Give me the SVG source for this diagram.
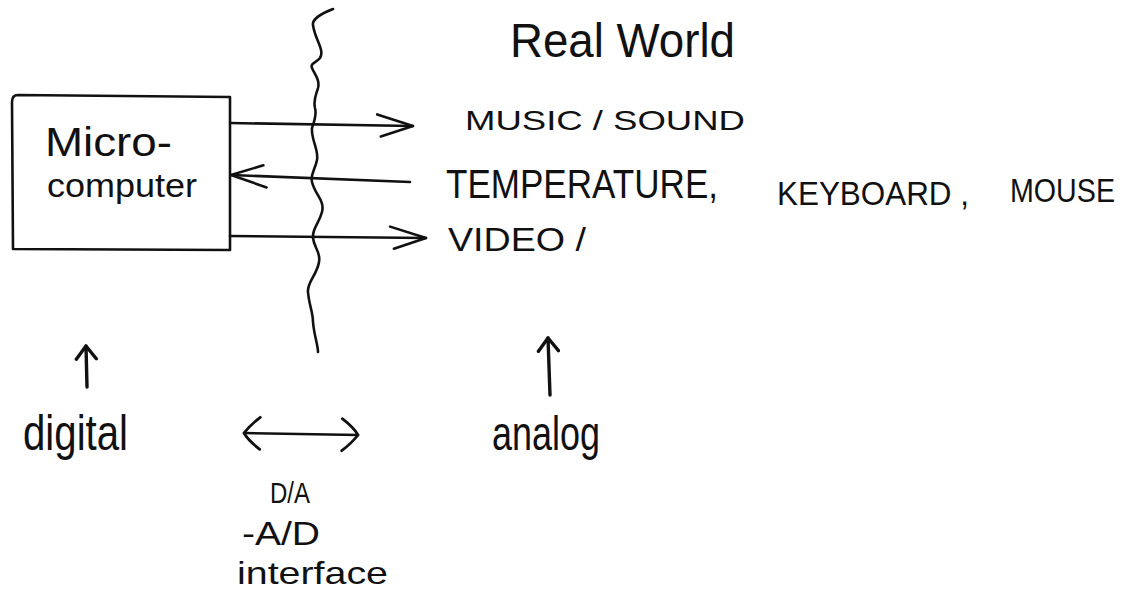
<svg xmlns="http://www.w3.org/2000/svg" width="1139" height="594" viewBox="0 0 1139 594">
  <style>
    .ink { fill: none; stroke: #111; stroke-width: 2.6; stroke-linecap: round; stroke-linejoin: round; }
    .bold { stroke-width: 3.4; }
    .txt { font-family: "Liberation Sans", Arial, sans-serif; fill: #111; }
  </style>
  <defs>
    <marker id="headLong" markerUnits="userSpaceOnUse" viewBox="-2 -2 40 26" markerWidth="40" markerHeight="26" refX="36" refY="11" orient="auto">
      <path d="M0,0 L36,11 L4,22" fill="none" stroke="#111" stroke-width="2.6" stroke-linecap="round" stroke-linejoin="round"/>
    </marker>
    <marker id="headShort" markerUnits="userSpaceOnUse" viewBox="-2 -2 18 24" markerWidth="18" markerHeight="24" refX="13" refY="10" orient="auto">
      <path d="M0,0 L13,10 L0,20" fill="none" stroke="#111" stroke-width="3.4" stroke-linecap="round" stroke-linejoin="round"/>
    </marker>
    <marker id="headDbl" markerUnits="userSpaceOnUse" viewBox="-2 -2 22 36" markerWidth="22" markerHeight="36" refX="18" refY="16" orient="auto-start-reverse">
      <path d="M2,0 Q14,9 18,16 Q12,24 2,32" fill="none" stroke="#111" stroke-width="2.8" stroke-linecap="round" stroke-linejoin="round"/>
    </marker>
  </defs>
  <rect width="1139" height="594" fill="#fff"/>

  <!-- interface boundary (wavy line) -->
  <g id="boundary">
    <path class="ink" d="M333,9 C320,14 312,20 313,25 C315,40 325,50 320,58 C316,63 310,63 312,68 C315,75 320,80 318,88 C316,95 313,100 315,108 C317,115 314,122 312,128 C311,140 319,150 317,160 C315,170 310,175 312,182 C315,195 325,200 322,212 C319,224 312,228 313,238 C314,248 321,252 319,262 C317,275 307,282 308,292 C309,305 313,312 313,322 C314,335 318,345 318,352"/>
  </g>

  <g id="microcomputer">
    <path class="ink" d="M18,95 L230,97 L230,250 L13,249 L12,102 Q12,95 18,95 Z"/>
    <text class="txt" x="45" y="156" font-size="41" textLength="127" lengthAdjust="spacingAndGlyphs">Micro-</text>
    <text class="txt" x="47" y="197" font-size="34" textLength="150" lengthAdjust="spacingAndGlyphs">computer</text>
  </g>

  <g id="real-world">
    <text class="txt" x="510" y="57" font-size="48" textLength="225" lengthAdjust="spacingAndGlyphs">Real World</text>
  </g>

  <g id="music-sound">
    <text class="txt" x="465" y="130" font-size="28" textLength="280" lengthAdjust="spacingAndGlyphs">MUSIC / SOUND</text>
  </g>

  <g id="inputs">
    <text class="txt" x="446" y="198" font-size="40" textLength="272" lengthAdjust="spacingAndGlyphs">TEMPERATURE,</text>
    <text class="txt" x="777" y="205" font-size="34" textLength="192" lengthAdjust="spacingAndGlyphs">KEYBOARD ,</text>
    <text class="txt" x="1010" y="202" font-size="34" textLength="105" lengthAdjust="spacingAndGlyphs">MOUSE</text>
  </g>

  <g id="video">
    <text class="txt" x="448" y="251" font-size="34" textLength="138" lengthAdjust="spacingAndGlyphs">VIDEO /</text>
  </g>

  <g id="digital">
    <text class="txt" x="23" y="450" font-size="50" textLength="105" lengthAdjust="spacingAndGlyphs">digital</text>
  </g>

  <g id="analog">
    <text class="txt" x="492" y="450" font-size="48" textLength="108" lengthAdjust="spacingAndGlyphs">analog</text>
  </g>

  <g id="interface">
    <text class="txt" x="270" y="503" font-size="30" textLength="40" lengthAdjust="spacingAndGlyphs">D/A</text>
    <text class="txt" x="242" y="545" font-size="34" textLength="78" lengthAdjust="spacingAndGlyphs">-A/D</text>
    <text class="txt" x="237" y="584" font-size="32" textLength="151" lengthAdjust="spacingAndGlyphs">interface</text>
  </g>

  <g id="connectors">
    <path class="ink" d="M230,123 L413,126" marker-end="url(#headLong)"/>
    <path class="ink" d="M410,182 L231,175" marker-end="url(#headLong)"/>
    <path class="ink" d="M230,236 L426,238" marker-end="url(#headLong)"/>
    <path class="ink bold" d="M87,387 L86,346" marker-end="url(#headShort)"/>
    <path class="ink bold" d="M550,395 L548,338" marker-end="url(#headShort)"/>
    <path class="ink" d="M244,433 L358,435" marker-start="url(#headDbl)" marker-end="url(#headDbl)"/>
  </g>
</svg>
